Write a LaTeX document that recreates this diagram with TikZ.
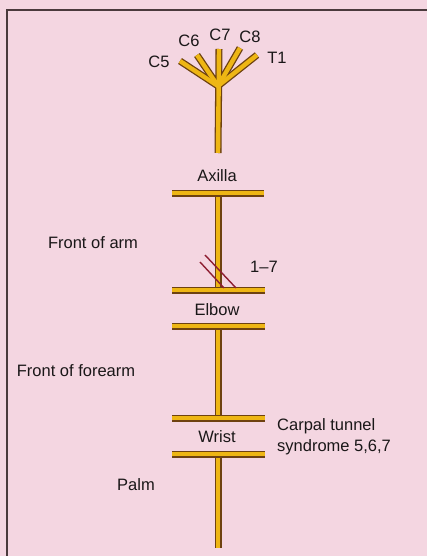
\documentclass[tikz,border=0pt]{standalone}
\usepackage{fontspec}
\setmainfont{Liberation Sans}
\definecolor{bgpink}{HTML}{F4D6E1}
\definecolor{frameC}{HTML}{4A3A3C}
\definecolor{barEdge}{HTML}{6E4210}
\definecolor{barFill}{HTML}{EEB614}
\definecolor{cutRed}{HTML}{8E1E32}
\definecolor{txt}{HTML}{1A1718}
\tikzset{
  nerveedge/.style={draw=barEdge, line width=7pt},
  nervefill/.style={draw=barFill, line width=4.4pt},
  lbl/.style={font=\fontsize{16.5}{21}\selectfont, text=txt, inner sep=0pt},
  cut/.style={draw=cutRed, line width=1.4pt}
}
\begin{document}
\begin{tikzpicture}[x=1pt,y=-1pt]
\fill[bgpink] (0,0) rectangle (427,556);
\useasboundingbox (0,0) rectangle (427,556);
\draw[frameC, line width=1.5pt] (7,556) -- (7,10) -- (427,10);
% fan coordinates
\coordinate (J) at (218,86);
\coordinate (c5) at (180,61);
\coordinate (c6) at (197,55);
\coordinate (c7) at (219,49);
\coordinate (c8) at (240,48);
\coordinate (t1) at (257,55);
\coordinate (s0) at (218,153);
% bars
\coordinate (a1) at (172,193); \coordinate (a2) at (264,193);
\coordinate (e1) at (172,290); \coordinate (e2) at (265,290);
\coordinate (f1) at (172,326); \coordinate (f2) at (265,326);
\coordinate (w1) at (172,418); \coordinate (w2) at (265,418);
\coordinate (v1) at (172,454); \coordinate (v2) at (265,454);
\coordinate (ax) at (218,193);
\coordinate (el) at (218,290);
\coordinate (fo) at (218,326);
\coordinate (wr) at (218,418);
\coordinate (wb) at (218,454);
\coordinate (end) at (218,548);
% two passes: dark edge, then yellow core
\foreach \sty in {nerveedge,nervefill}{
  \draw[\sty] (c5) -- (J);
  \draw[\sty] (c6) -- (J);
  \draw[\sty] (c8) -- (J);
  \draw[\sty] (t1) -- (J);
  \draw[\sty] (c7) -- (s0);
  \draw[\sty] (ax) -- (el);
  \draw[\sty] (fo) -- (wr);
  \draw[\sty] (wb) -- (end);
}
% bars on top
\foreach \p/\q in {a1/a2,e1/e2,f1/f2,w1/w2,v1/v2}{
  \draw[nerveedge] (\p) -- (\q);
  \draw[nervefill] (\p) -- (\q);
}
% cut lines
\coordinate (k1) at (205,255); \coordinate (k2) at (236,288);
\coordinate (k3) at (200,262); \coordinate (k4) at (224,288);
\draw[cut] (k1) -- (k2);
\draw[cut] (k3) -- (k4);
% labels
\node[lbl] (lc5) at (159,62) {C5};
\node[lbl] (lc6) at (189,41) {C6};
\node[lbl] (lc7) at (220,35) {C7};
\node[lbl] (lc8) at (250,37) {C8};
\node[lbl] (lt1) at (277,58) {T1};
\node[lbl] (lax) at (217,176) {Axilla};
\node[lbl] (lfa) at (93,243) {Front of arm};
\node[lbl] (l17) at (264,267) {1--7};
\node[lbl] (lel) at (217,310) {Elbow};
\node[lbl] (lff) at (76,371) {Front of forearm};
\node[lbl] (lwr) at (217,437) {Wrist};
\node[lbl, anchor=west, align=left] (lct) at (277,437) {Carpal tunnel\\syndrome 5,6,7};
\node[lbl] (lpa) at (136,485) {Palm};
\end{tikzpicture}
\end{document}
